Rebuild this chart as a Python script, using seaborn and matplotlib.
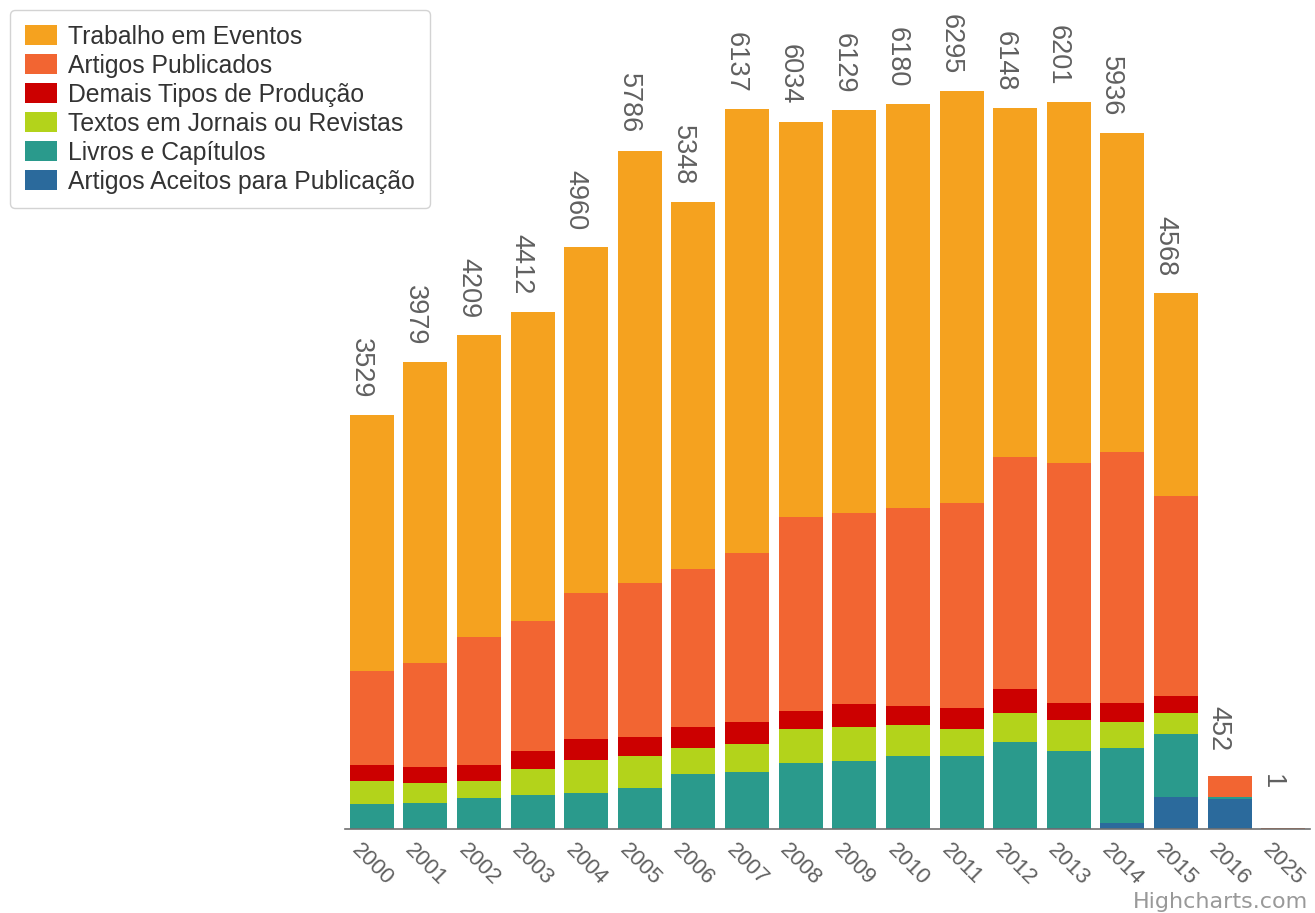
import pandas as pd
import matplotlib
matplotlib.use("Agg")
import matplotlib.pyplot as plt
from matplotlib.patches import Patch
import seaborn as sns

# --- data ---
years = ["2000", "2001", "2002", "2003", "2004", "2005", "2006", "2007", "2008",
         "2009", "2010", "2011", "2012", "2013", "2014", "2015", "2016", "2025"]
trabalho = [2184, 2568, 2574, 2641, 2951, 3691, 3133, 3785, 3375,
            3436, 3444, 3517, 2976, 3081, 2723, 1730, 0, 0]
artigos_pub = [802, 883, 1092, 1107, 1246, 1312, 1351, 1445, 1653,
               1630, 1690, 1752, 1983, 2051, 2145, 1707, 180, 1]
demais = [137, 142, 137, 156, 179, 162, 179, 183, 159,
          199, 162, 179, 200, 143, 162, 148, 0, 0]
textos = [199, 166, 143, 222, 284, 278, 222, 239, 285,
          285, 265, 228, 248, 265, 222, 179, 0, 0]
livros = [207, 220, 263, 286, 300, 343, 463, 485, 562,
          579, 614, 619, 736, 656, 640, 538, 20, 0]
aceitos = [0, 0, 0, 0, 0, 0, 0, 0, 0,
           0, 5, 0, 5, 5, 44, 266, 252, 0]

series_names = ["Trabalho em Eventos", "Artigos Publicados", "Demais Tipos de Produção",
                "Textos em Jornais ou Revistas", "Livros e Capítulos",
                "Artigos Aceitos para Publicação"]
series_values = [trabalho, artigos_pub, demais, textos, livros, aceitos]
colors = ["#F5A21F", "#F26532", "#CC0000", "#B3D31B", "#2A9A8C", "#2B6A9C"]

rows = []
for name, vals in zip(series_names, series_values):
    for i, v in enumerate(vals):
        rows.append({"pos": i, "serie": name, "valor": v})
df = pd.DataFrame(rows)
totals = df.groupby("pos")["valor"].sum()

sns.set_style("white")
plt.rcParams["font.family"] = ["Liberation Sans", "DejaVu Sans"]

fig = plt.figure(figsize=(13.15, 9.13), dpi=100)
ax = fig.add_axes([345 / 1315, 1 - 828.5 / 913, 965 / 1315, 828.5 / 913])

# first hue level ends up on top of the stack
sns.histplot(data=df, x="pos", weights="valor", hue="serie", hue_order=series_names,
             palette=colors, multiple="stack", discrete=True, shrink=0.82,
             alpha=1, linewidth=0, edgecolor="none", legend=False, ax=ax)

ax.set_xlim(-0.5, len(years) - 0.5)
ax.set_ylim(0, 7071)

# stack totals, rotated like highcharts stackLabels
for i, tot in totals.items():
    ax.annotate(f"{tot}", xy=(i, tot), xytext=(-11, 47), textcoords="offset pixels",
                rotation=-90, ha="center", va="center", fontsize=19.5, color="#606060")

# axis styling
for s in ["left", "top", "right"]:
    ax.spines[s].set_visible(False)
ax.spines["bottom"].set_color("#707070")
ax.spines["bottom"].set_linewidth(1.2)
ax.set_yticks([])
ax.set_xlabel("")
ax.set_ylabel("")
ax.set_xticks(range(len(years)))
ax.set_xticklabels(years, rotation=-45, ha="center", va="top",
                   fontsize=16, color="#606060")
ax.tick_params(axis="x", which="major", length=0, pad=8)
ax.set_xticks([i - 0.5 for i in range(len(years) + 1)], minor=True)
ax.tick_params(axis="x", which="minor", length=7, width=1.2, color="#707070", direction="out")

# legend
handles = [Patch(facecolor=c, edgecolor="none") for c in colors]
fig.legend(handles, series_names, loc="upper left",
           bbox_to_anchor=(10 / 1315, 1 - 10 / 913), borderaxespad=0,
           fontsize=17.8, labelcolor="#333333", frameon=True, fancybox=True,
           edgecolor="#c8c8c8", handlelength=1.3, handleheight=0.89,
           handletextpad=0.45, labelspacing=0.2, borderpad=0.6)

fig.text(1308 / 1315, 1 - 908 / 913, "Highcharts.com", ha="right", va="baseline",
         fontsize=16, color="#999999", family=["DejaVu Sans"])

plt.savefig("out.png", dpi=100)
plt.close()
